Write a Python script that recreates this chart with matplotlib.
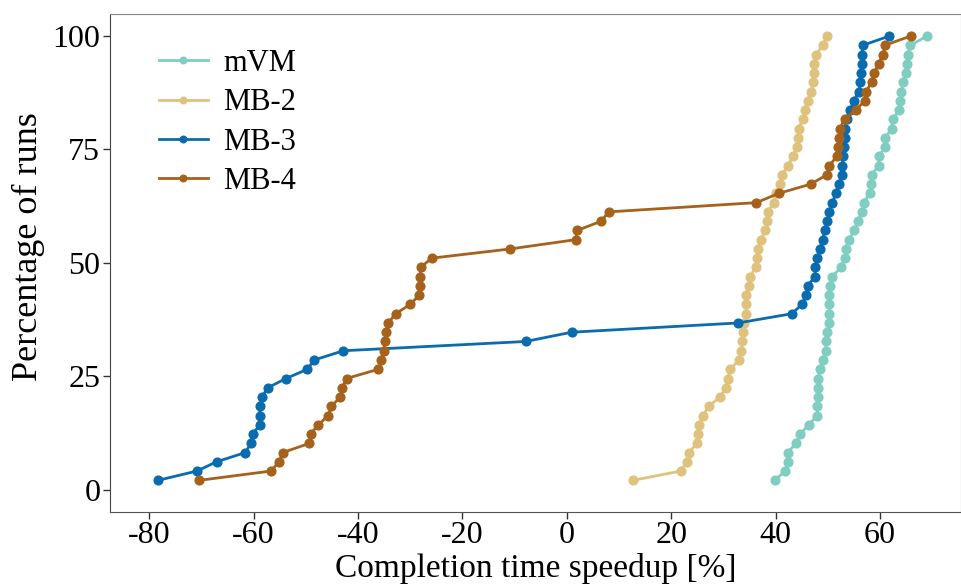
import matplotlib
matplotlib.use("Agg")
import matplotlib.pyplot as plt

plt.rcParams['font.family'] = ['Liberation Serif', 'DejaVu Serif']
plt.rcParams['axes.unicode_minus'] = False

# sorted completion time speedups [%] per configuration (49 runs each)
mvm = [39.8, 41.8, 42.3, 42.3, 43.9, 44.7, 46.3, 48.0, 48.0, 48.2,
       48.2, 48.2, 48.4, 49.1, 49.6, 49.6, 49.8, 50.2, 50.3, 50.3,
       50.3, 50.5, 50.8, 52.5, 53.2, 53.5, 54.0, 55.1, 55.7, 56.6,
       56.9, 58.0, 58.2, 58.4, 59.7, 59.8, 60.9, 61.0, 62.2, 62.4,
       63.6, 63.9, 64.1, 64.4, 64.9, 65.1, 65.3, 65.8, 69.0]
mb2 = [12.7, 21.8, 23.0, 23.4, 24.9, 25.1, 25.3, 26.1, 27.2, 29.3,
       30.5, 30.8, 31.3, 33.0, 33.4, 33.6, 33.8, 34.0, 34.3, 34.4,
       34.4, 34.9, 35.0, 36.2, 36.5, 36.6, 37.2, 38.0, 38.4, 38.5,
       39.6, 40.1, 40.8, 41.2, 42.3, 43.4, 44.0, 44.3, 44.4, 45.2,
       45.6, 46.1, 46.8, 47.1, 47.3, 47.4, 47.7, 49.1, 49.8]
mb3 = [-78.3, -70.9, -67.1, -61.6, -60.5, -60.2, -58.8, -58.8, -58.8, -58.4,
       -57.3, -53.8, -49.7, -48.4, -42.8, -7.9, 0.9, 32.8, 43.1, 45.0,
       45.9, 46.1, 47.5, 47.6, 48.0, 48.5, 49.0, 49.4, 49.9, 50.2,
       50.8, 51.6, 52.1, 52.7, 52.8, 52.9, 53.0, 53.2, 53.3, 53.6,
       54.3, 55.0, 55.9, 56.2, 56.4, 56.5, 56.5, 56.7, 61.8]
mb4 = [-70.4, -56.7, -55.1, -54.4, -49.3, -49.1, -47.6, -45.7, -45.1, -43.4,
       -43.0, -42.2, -36.1, -35.6, -35.1, -34.8, -34.6, -34.2, -32.8, -30.0,
       -28.3, -28.2, -28.1, -28.0, -25.9, -10.8, 1.7, 2.0, 6.6, 8.0,
       36.3, 40.6, 46.7, 49.8, 50.3, 51.7, 51.9, 52.1, 52.3, 53.2,
       55.3, 57.1, 57.3, 58.4, 58.9, 59.7, 60.6, 60.9, 65.9]

names = ["mVM", "MB-2", "MB-3", "MB-4"]
colors = ["#80cdc1", "#dfc27d", "#0a6bae", "#a6611a"]

fig = plt.figure(figsize=(9.61, 5.84), dpi=100)
ax = fig.add_axes([0.1145, 0.124, 0.8855, 0.852])

for vals, name, c in zip([mvm, mb2, mb3, mb4], names, colors):
    n = len(vals)
    pct = [100 * (i + 1) / n for i in range(n)]
    ax.plot(vals, pct, color=c, lw=2.0, marker='o', ms=6.3, label=name)

ax.set_xlim(-87.5, 75.5)
ax.set_ylim(-4.85, 104.85)
ax.set_xticks([-80, -60, -40, -20, 0, 20, 40, 60])
ax.set_yticks([0, 25, 50, 75, 100])
ax.tick_params(labelsize=23, length=5, width=1, color='#333333', pad=2)

ax.spines['left'].set_color('#444444')
ax.spines['bottom'].set_color('#555555')
ax.spines['top'].set_color('#888888')
ax.spines['right'].set_color('#888888')

ax.set_xlabel("Completion time speedup [%]", fontsize=24, labelpad=2)
ax.set_ylabel("Percentage of runs", fontsize=26)
ax.yaxis.set_label_coords(-0.076, 0.532)

leg = ax.legend(loc='upper left', bbox_to_anchor=(0.025, 0.985), frameon=False,
                fontsize=22, markerscale=0.75, handlelength=1.6,
                handletextpad=0.5, labelspacing=0.34)

fig.savefig("out.png", dpi=100)
